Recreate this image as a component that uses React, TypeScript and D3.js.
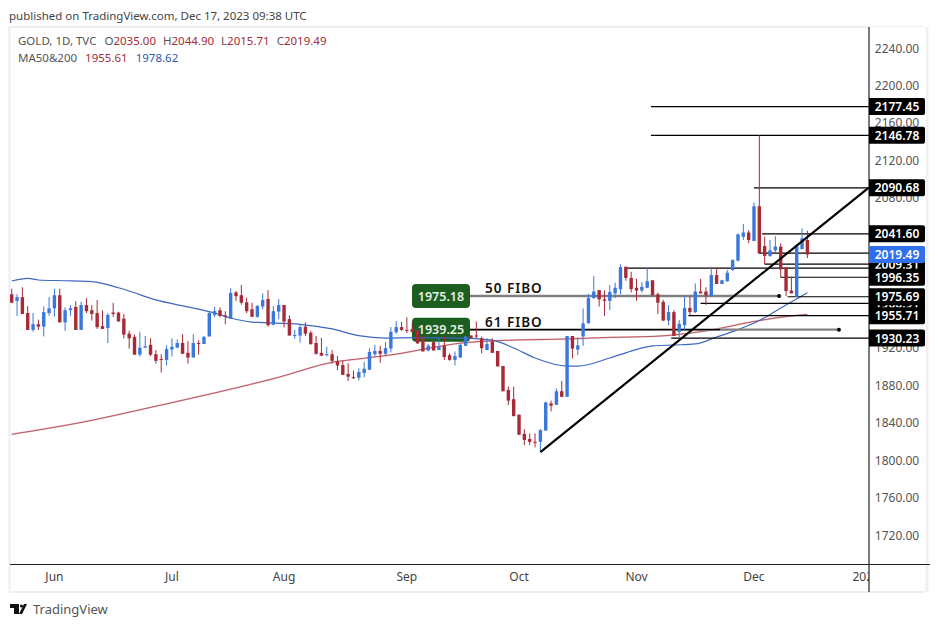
import React from 'react';
import * as d3 from 'd3';

const opens = [
  1977, 1970, 1974, 1957, 1939, 1945, 1942.5, 1957, 1962, 1976,
  1947, 1960, 1963.5, 1939, 1965.5, 1960, 1957, 1943, 1941, 1957.5,
  1957.5, 1951, 1935, 1931.5, 1912.5, 1920, 1923, 1913, 1908, 1907,
  1918, 1920, 1925, 1914.5, 1909.5, 1925, 1924, 1932, 1955, 1960,
  1954.5, 1951, 1979, 1976, 1968.5, 1961, 1953, 1964, 1972, 1944.5,
  1958.5, 1965.5, 1950.5, 1933, 1933, 1942.5, 1936, 1925, 1914.5, 1912.5,
  1913, 1905.5, 1901.5, 1892, 1888.5, 1888, 1893, 1896.5, 1913, 1916.5,
  1913.5, 1919, 1936.5, 1942, 1939, 1940, 1938.5, 1930, 1917, 1926,
  1917.5, 1922, 1912, 1907, 1909.5, 1922, 1933, 1933, 1930, 1917.5,
  1926.5, 1916.5, 1900.5, 1875, 1865, 1848.5, 1828, 1822.5, 1819.5, 1819.5,
  1831.5, 1860.5, 1859, 1873.5, 1867.5, 1932.5, 1918, 1932, 1946, 1973,
  1981.5, 1971.5, 1970, 1978, 1982.5, 2006.5, 1994.5, 1984, 1981, 1984,
  1992, 1977, 1969, 1949, 1958, 1937, 1944, 1962.5, 1958, 1980,
  1980, 1975, 1997.5, 1988, 1991, 2003, 2013, 2038.5, 2043, 2034,
  2071, 2028.5, 2018, 2024, 2028, 2005.7, 1981, 1974.4, 2025.3, 2035,
];
const highs = [
  1983, 1977, 1984.5, 1964.5, 1957, 1950, 1964, 1974, 1983, 1983,
  1963, 1965.5, 1969.5, 1969, 1973, 1965.5, 1971, 1960, 1957, 1968,
  1958.5, 1956, 1938, 1934, 1937, 1932.5, 1930, 1917.5, 1913, 1922.5,
  1930, 1929, 1934.5, 1927, 1934.5, 1928, 1932.5, 1959, 1963.5, 1963,
  1959, 1983.5, 1980.5, 1987, 1973.5, 1968, 1965.5, 1978, 1981.5, 1964.5,
  1972, 1965.5, 1954.5, 1939, 1944, 1947, 1938, 1932.5, 1930.5, 1921,
  1917.5, 1911, 1906, 1903.5, 1895.5, 1898, 1905, 1919.5, 1923, 1922,
  1926, 1942, 1948.5, 1947.5, 1952.5, 1946, 1943, 1932, 1924, 1929,
  1930, 1932, 1914, 1916, 1924, 1933, 1933, 1948, 1932, 1930,
  1930, 1916.5, 1900.5, 1878.5, 1878.5, 1848.5, 1833, 1828.5, 1828.5, 1833,
  1862.5, 1863.5, 1876.5, 1884.5, 1932.5, 1932.5, 1931, 1962, 1977.5, 1996.5,
  1981.5, 1981, 1987, 1989.5, 2009, 2006.5, 2001, 1993.5, 1990, 2005,
  1992, 1979, 1971, 1965.5, 1960, 1949.5, 1974.5, 1975, 1988.5, 1993.5,
  1984.5, 2006.5, 2005.5, 1992.5, 2003, 2014.5, 2042, 2052, 2045.5, 2075,
  2146.78, 2038.5, 2035, 2039, 2031.4, 2005.7, 1995.8, 2028, 2047.4, 2044.9,
];
const lows = [
  1968, 1954, 1956, 1939, 1937, 1939, 1932, 1954, 1953, 1947,
  1938, 1954, 1939, 1939, 1957, 1949, 1940, 1940, 1925, 1953,
  1948, 1930, 1919, 1912.5, 1910.5, 1920, 1911, 1903, 1893.5, 1901,
  1910.5, 1920, 1913.5, 1903, 1909.5, 1912.5, 1924, 1932, 1952.5, 1952.5,
  1945, 1951, 1970, 1966, 1957, 1953, 1952, 1961, 1942.5, 1944,
  1950.5, 1941.5, 1933, 1929.5, 1925.5, 1932.5, 1923, 1912.5, 1911, 1911,
  1903, 1896, 1891, 1884.5, 1886.5, 1885, 1888.5, 1896, 1911, 1904,
  1911, 1915, 1935, 1938, 1935.5, 1935.5, 1924.5, 1916, 1916, 1917,
  1917.5, 1907, 1906, 1901, 1909.5, 1922, 1930, 1930, 1914, 1917.5,
  1914.5, 1900, 1873.5, 1859, 1846.5, 1827, 1816, 1816, 1813.5, 1809,
  1831.5, 1852, 1859, 1867.5, 1867.5, 1908.5, 1912, 1922, 1946, 1972,
  1964, 1954, 1960, 1973, 1977, 1991.5, 1979, 1970, 1979, 1983.5,
  1976, 1956, 1948.5, 1944, 1932.5, 1930, 1939, 1954.5, 1957, 1978,
  1965.5, 1975, 1988, 1988, 1990.5, 2002, 2012, 2035, 2031.5, 2034,
  2020, 2009, 2017, 2021, 1995, 1975, 1978, 1974.4, 2025, 2015.71,
];
const closes = [
  1968, 1974, 1956, 1939, 1945, 1942.5, 1958, 1962, 1976, 1947,
  1960, 1962, 1939, 1965.5, 1959, 1956, 1942, 1940, 1955, 1956,
  1948, 1934, 1930, 1912.5, 1920, 1921.5, 1912.5, 1906, 1907.5, 1918.5,
  1921, 1925, 1913.5, 1909.5, 1925, 1924, 1931.5, 1957, 1959, 1954,
  1954, 1978.5, 1975, 1968, 1959, 1953, 1964.5, 1971, 1944, 1959,
  1965.5, 1948, 1933, 1933.5, 1942, 1935, 1924, 1913.5, 1911.5, 1913,
  1906, 1901, 1891, 1889, 1888, 1894, 1897.5, 1915.5, 1916.5, 1913.5,
  1919.5, 1937, 1942, 1939, 1938, 1937, 1924.5, 1916, 1922, 1917,
  1921, 1910, 1907, 1911, 1923, 1932, 1930, 1932, 1919.5, 1924,
  1914.5, 1900, 1873.5, 1863.5, 1847, 1827, 1821.5, 1819.5, 1818.5, 1832,
  1861.5, 1858, 1873.5, 1867.5, 1932.5, 1919, 1922.5, 1946, 1973, 1980,
  1971.5, 1970, 1979.5, 1984, 2006, 1994.5, 1982.5, 1981, 1985, 1991,
  1976, 1968, 1949, 1958, 1932.5, 1945.5, 1962.5, 1958, 1980, 1978,
  1976, 1997.5, 1988, 1992, 2000, 2013.5, 2041, 2043, 2035, 2071,
  2020.7, 2018, 2024, 2028, 2003.6, 1980.5, 1978, 2028, 2036.7, 2019.49,
];

const ma50Bars = [0, 3, 5, 10, 15, 20, 22, 27, 33, 38, 41, 45, 54, 60, 65, 70, 75, 85, 90, 94, 98, 104, 106, 112, 116, 120, 124, 128, 132, 136, 140, 144, 149];
const ma50Values = [1991.2, 1994, 1992.3, 1991.5, 1990.5, 1984, 1980.5, 1971, 1963.5, 1957, 1951.7, 1947.4, 1945, 1940, 1932.8, 1930.3, 1930.7, 1930.3, 1928, 1919.7, 1909, 1900.4, 1900.4, 1909, 1916.4, 1922, 1922.9, 1924, 1931.4, 1939.3, 1949, 1962.4, 1978.62];
const ma200Bars = [0, 11, 28, 39, 50, 60, 66, 73, 77, 85, 91, 105, 112, 120, 130, 139, 144, 149];
const ma200Values = [1827.5, 1838, 1858.8, 1873, 1888.4, 1904.4, 1908.7, 1914, 1918.3, 1925.5, 1927.5, 1929.5, 1931, 1932, 1938, 1948, 1952.5, 1955.61];

// 2040, 2000 and 1960 sit fully behind the level boxes
const priceTicks = [2240, 2200, 2160, 2120, 2080, 1920, 1880, 1840, 1800, 1760, 1720];
const monthNames = ['Jun', 'Jul', 'Aug', 'Sep', 'Oct', 'Nov', 'Dec', '2024'];
const monthBars = [8, 30, 51, 74, 95, 117, 139, 160];

// levels drawn out to the price axis: height, first bar
const levelPrices = [2177.45, 2146.78, 2090.68, 2041.6, 2021, 2009.31, 2005, 1995.2, 1974.4, 1967.4, 1954.2, 1930.23];
const levelStarts = [119.7, 119.7, 139, 140.5, 140, 141, 115, 144, 145.3, 129, 126.7, 123.5];
const levelLabels = ['2177.45', '2146.78', '2090.68', '2041.60', '', '2009.31', '', '1996.35', '1975.69', '1966.91', '1955.71', '1930.23'];
// the 1966.91 box is nearly hidden, so it goes first
const labelOrder = [9, 0, 1, 2, 3, 5, 7, 8, 10, 11];

const fiboPrices = [1975.18, 1939.25];
const fiboNames = ['50 FIBO', '61 FIBO'];
const fiboEndBars = [143.7, 154.9];

const trendBars = [99, 160.5];
const trendPrices = [1808.6, 2091];

const font = '"Noto Sans", Tahoma, sans-serif';
const upColor = '#3a78dc';
const downColor = '#a72a36';
const axisX = 869;

const x = d3.scaleLinear().domain([0, 149]).range([11.7, 807.4]);
const y = d3.scaleLinear().domain([1720, 2240]).range([535, 48]);

const PriceBox: React.FC<{ price: number; text: string; fill: string }> = ({ price, text, fill }) => (
  <g>
    <path
      d={`M${axisX} ${y(price) - 8.5}H${axisX + 54}a2 2 0 0 1 2 2v13a2 2 0 0 1 -2 2H${axisX}Z`}
      fill={fill}
    />
    <text x={axisX + 28} y={y(price) + 4.5} fill="#fff" fontSize={12} fontWeight={600} textAnchor="middle">
      {text}
    </text>
  </g>
);

export default function App() {
  const ma50Path = d3.line<number>().x(d => x(d)).y((_, i) => y(ma50Values[i])).curve(d3.curveMonotoneX)(ma50Bars);
  const ma200Path = d3.line<number>().x(d => x(d)).y((_, i) => y(ma200Values[i])).curve(d3.curveMonotoneX)(ma200Bars);

  return (
    <svg
      width={939}
      height={627}
      style={{ position: 'absolute', left: 0, top: 0, background: '#fff', fontFamily: font }}
    >
      <defs>
        <clipPath id="time-clip">
          <rect x={10} y={565} width={axisX - 10} height={27} />
        </clipPath>
      </defs>

      <text x={9} y={20} fontSize={11.5} fill="#444">
        published on TradingView.com, Dec 17, 2023 09:38 UTC
      </text>

      <path d="M9.5 592V27H925" fill="none" stroke="#eeeef1" strokeWidth={2} />
      <path d="M9 592H925" stroke="#eeeef1" strokeWidth={2} />
      <path d="M927 27V592" stroke="#f0f0f3" strokeWidth={3} />

      <text x={18} y={45} fontSize={11.5} fill="#555">
        GOLD, 1D, TVC{'  '}
        <tspan dx={5}>O</tspan>
        <tspan fill={downColor}>2035.00</tspan>
        <tspan dx={7}>H</tspan>
        <tspan fill={downColor}>2044.90</tspan>
        <tspan dx={7}>L</tspan>
        <tspan fill={downColor}>2015.71</tspan>
        <tspan dx={7}>C</tspan>
        <tspan fill={downColor}>2019.49</tspan>
      </text>
      <text x={18} y={62} fontSize={11.5} fill="#555">
        MA50&amp;200
        <tspan dx={8} fill={downColor}>1955.61</tspan>
        <tspan dx={8} fill="#3458b0">1978.62</tspan>
      </text>

      {/* green boxes go under the candles, their text over them */}
      {fiboPrices.map(p => (
        <rect key={p} x={412} y={y(p) - 12} width={58} height={24} rx={4} fill="#1b5e20" />
      ))}

      <path d={ma200Path ?? ''} fill="none" stroke="#ebcbcd" strokeWidth={1.8} />
      <path d={ma200Path ?? ''} fill="none" stroke="#b34a54" strokeWidth={0.9} />
      <path d={ma50Path ?? ''} fill="none" stroke="#3f68c0" strokeWidth={1.2} />

      {fiboPrices.map((p, i) => (
        <g key={p}>
          <line x1={470} x2={x(fiboEndBars[i])} y1={y(p)} y2={y(p)} stroke="#808080" strokeWidth={2.4} />
          <circle cx={x(fiboEndBars[i])} cy={y(p)} r={2} fill="#000" />
        </g>
      ))}
      <line x1={470} x2={720} y1={y(fiboPrices[1])} y2={y(fiboPrices[1])} stroke="#000" strokeWidth={1.3} />

      {levelPrices.map((p, i) => (
        <line key={p} x1={x(levelStarts[i])} x2={axisX} y1={y(p)} y2={y(p)} stroke="#000" strokeWidth={1.2} />
      ))}

      {opens.map((o, i) => {
        const c = closes[i];
        const color = c >= o ? upColor : downColor;
        const top = y(Math.max(o, c));
        const h = Math.max(1, Math.abs(y(o) - y(c)));
        return (
          <g key={i}>
            <line x1={x(i)} x2={x(i)} y1={y(highs[i])} y2={y(lows[i])} stroke={color} strokeWidth={1} />
            <rect x={x(i) - 1.7} y={top} width={3.4} height={h} fill={color} />
          </g>
        );
      })}

      <line
        x1={x(trendBars[0])}
        x2={x(trendBars[1])}
        y1={y(trendPrices[0])}
        y2={y(trendPrices[1])}
        stroke="#000"
        strokeWidth={2.2}
      />

      {fiboPrices.map((p, i) => (
        <g key={p}>
          <text x={441} y={y(p) + 4.5} fill="#e8f0e4" fontSize={12.5} fontWeight={600} textAnchor="middle">
            {p.toFixed(2)}
          </text>
          <text x={485} y={y(p) - 3} fill="#111" fontSize={13.5} fontWeight={600} letterSpacing={1}>
            {fiboNames[i]}
          </text>
        </g>
      ))}

      <line x1={10} x2={930} y1={564.5} y2={564.5} stroke="#222" strokeWidth={1.2} />
      <rect x={axisX + 0.6} y={27} width={56} height={537} fill="#fff" />
      <line x1={axisX} x2={axisX} y1={27} y2={592} stroke="#222" strokeWidth={1.2} />

      {priceTicks.map(t => (
        <text key={t} x={axisX + 28} y={y(t) + 4.5} fontSize={12} fill="#555" textAnchor="middle">
          {t.toFixed(2)}
        </text>
      ))}

      {labelOrder.map(i => (
        <PriceBox key={i} price={levelPrices[i]} text={levelLabels[i]} fill="#000" />
      ))}
      <PriceBox price={2019.49} text="2019.49" fill="#2f6fef" />

      <g clipPath="url(#time-clip)">
        {monthNames.map((m, i) => (
          <text key={m} x={x(monthBars[i])} y={581} fontSize={12} fill="#444" textAnchor="middle">
            {m}
          </text>
        ))}
      </g>

      <path d="M10 604H19V614H14V608H10Z M24 604L19 614H22L27 604Z" fill="#111" />
      <circle cx={21.5} cy={606} r={1.6} fill="#111" />
      <text x={33} y={614} fontSize={13} fill="#555">
        TradingView
      </text>
    </svg>
  );
}
